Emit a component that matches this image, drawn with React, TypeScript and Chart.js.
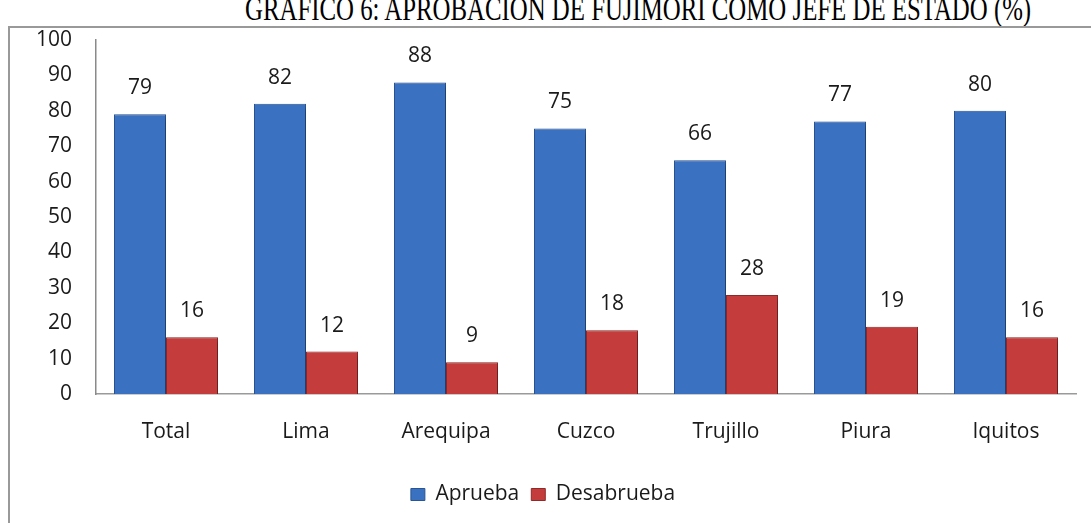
import React, { useEffect, useRef } from "react";
import { Chart, registerables } from "chart.js";

Chart.register(...registerables);

const titleText = "GRAFICO 6: APROBACION DE FUJIMORI COMO JEFE DE ESTADO (%)";
const categories = ["Total", "Lima", "Arequipa", "Cuzco", "Trujillo", "Piura", "Iquitos"];
const seriesNames = ["Aprueba", "Desabrueba"];
const aprueba = [79, 82, 88, 75, 66, 77, 80];
const desaprueba = [16, 12, 9, 18, 28, 19, 16];
const yMin = 0;
const yMax = 100;
const yStep = 10;

const FONT = "'Open Sans', 'DejaVu Sans', sans-serif";

export default function App() {
  const ref = useRef<HTMLCanvasElement | null>(null);

  useEffect(() => {
    if (!ref.current) return;

    const shadowPlugin = {
      id: "barShadow",
      beforeDatasetsDraw(chart: any) {
        const c = chart.ctx;
        c.save();
        c.shadowColor = "rgba(0,0,0,0.4)";
        c.shadowBlur = 5;
        c.shadowOffsetX = 2;
        c.shadowOffsetY = 3;
      },
      afterDatasetsDraw(chart: any) {
        chart.ctx.restore();
      },
    };

    const labelPlugin = {
      id: "valueLabels",
      afterDatasetsDraw(chart: any) {
        const c = chart.ctx;
        c.save();
        c.font = `21px ${FONT}`;
        c.fillStyle = "#1a1a1a";
        c.textAlign = "center";
        c.textBaseline = "middle";
        chart.data.datasets.forEach((ds: any, i: number) => {
          chart.getDatasetMeta(i).data.forEach((bar: any, j: number) => {
            c.fillText(String(ds.data[j]), bar.x, bar.y - 26);
          });
        });
        c.restore();
      },
    };

    const chart = new Chart(ref.current, {
      type: "bar",
      data: {
        labels: categories,
        datasets: [
          {
            label: seriesNames[0],
            data: aprueba,
            backgroundColor: "#3b71c1",
            borderColor: "#2a5595",
            borderWidth: 1,
            categoryPercentage: 0.743,
            barPercentage: 1,
          },
          {
            label: seriesNames[1],
            data: desaprueba,
            backgroundColor: "#c43c3b",
            borderColor: "#8e2b2a",
            borderWidth: 1,
            categoryPercentage: 0.743,
            barPercentage: 1,
          },
        ],
      },
      options: {
        animation: false,
        responsive: false,
        maintainAspectRatio: false,
        layout: { padding: { left: 10, right: 15, top: 40, bottom: 8 } },
        plugins: {
          title: { display: false },
          tooltip: { enabled: false },
          legend: {
            display: true,
            position: "bottom",
            labels: {
              boxWidth: 14,
              boxHeight: 12,
              padding: 12,
              color: "#1a1a1a",
              font: { family: FONT, size: 21 },
            },
          },
        },
        scales: {
          x: {
            grid: { display: false, drawTicks: false },
            border: { display: true, color: "#9a9a9a", width: 1.5 },
            ticks: { color: "#1a1a1a", padding: 25, font: { family: FONT, size: 21 } },
            afterFit(scale: any) {
              scale.height = 78;
            },
          },
          y: {
            min: yMin,
            max: yMax,
            grid: { display: false, drawTicks: false },
            border: { display: true, color: "#8a8a8a", width: 1.5 },
            ticks: {
              stepSize: yStep,
              color: "#1a1a1a",
              padding: 24,
              font: { family: FONT, size: 21 },
            },
            afterFit(scale: any) {
              scale.width = 86;
            },
          },
        },
      },
      plugins: [shadowPlugin, labelPlugin],
    });

    return () => chart.destroy();
  }, []);

  return (
    <div
      style={{
        position: "fixed",
        left: 0,
        top: 0,
        width: 1091,
        height: 523,
        overflow: "hidden",
        background: "#fff",
      }}
    >
      <div
        style={{
          position: "absolute",
          left: 245,
          top: -8,
          whiteSpace: "nowrap",
          fontFamily: "'Liberation Serif', 'Times New Roman', serif",
          fontSize: 34,
          lineHeight: "34px",
          color: "#000",
          transform: "scaleX(0.73)",
          transformOrigin: "left top",
        }}
      >
        {titleText}
      </div>
      <div
        style={{
          position: "absolute",
          left: 8,
          top: 26,
          width: 1200,
          height: 600,
          border: "2px solid #999",
          boxSizing: "border-box",
          background: "transparent",
        }}
      />
      <canvas
        ref={ref}
        width={1091}
        height={523}
        style={{ position: "absolute", left: 0, top: 0, width: 1091, height: 523 }}
      />
    </div>
  );
}
